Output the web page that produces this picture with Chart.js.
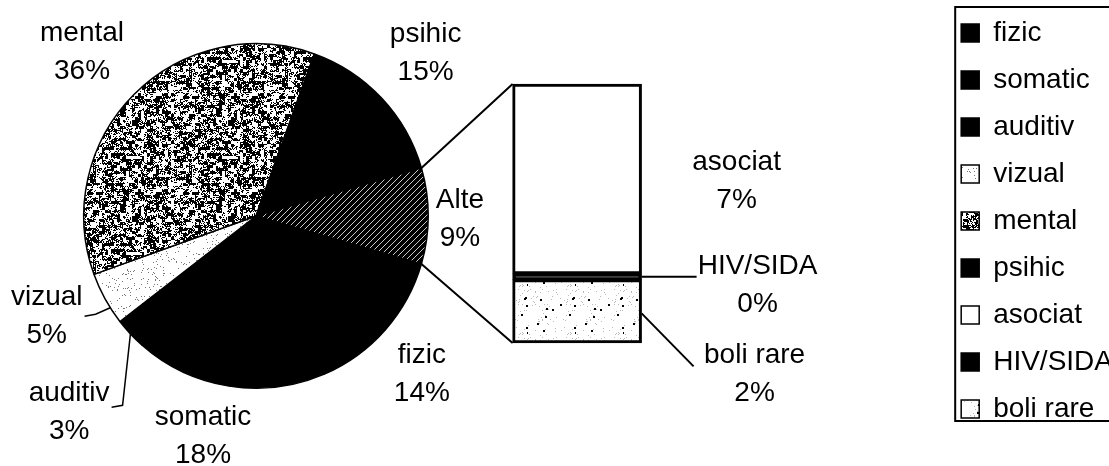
<!DOCTYPE html>
<html>
<head>
<meta charset="utf-8">
<script src="https://cdn.jsdelivr.net/npm/chart.js@4.4.0/dist/chart.umd.min.js"></script>
<style>
  body { margin:0; background:#fff; overflow:hidden; width:1109px; height:466px; position:relative; }
  canvas { position:absolute; left:0; top:0; }
</style>
</head>
<body>
<canvas id="pie" width="1109" height="466"></canvas>
<canvas id="bar" width="1123" height="466"></canvas>
<script>
// pie slices (percent of total), clockwise starting after "Alte"
var pieLabels = ['fizic', 'somatic', 'auditiv', 'vizual', 'mental', 'psihic', 'Alte'];
var pieValues = [14, 18, 3, 5, 36, 15, 9];
// breakdown of "Alte", top to bottom in the bar
var barLabels = ['asociat', 'HIV/SIDA', 'boli rare'];
var barValues = [6.6, 0.2, 2.2];

var FAMILY = "'Liberation Sans', Arial, sans-serif";
var FONT = "28px " + FAMILY;

function noise(x, y, s) {
  var v = Math.sin(x * 12.9898 + y * 78.233 + s * 37.719) * 43758.5453;
  return v - Math.floor(v);
}
function makePattern(w, h, paint) {
  var c = document.createElement('canvas');
  c.width = w; c.height = h;
  var g = c.getContext('2d');
  paint(g, w, h);
  return g.createPattern(c, 'repeat');
}
// grainy grey for "mental"
var speckle = makePattern(96, 96, function(g, w, h) {
  g.fillStyle = '#fff'; g.fillRect(0, 0, w, h);
  g.fillStyle = '#000';
  for (var y = 0; y < h; y++) for (var x = 0; x < w; x++) {
    var v = 0.55 * noise(Math.floor(x / 3), Math.floor(y / 3), 2) + 0.45 * noise(x, y, 1);
    if (v < 0.5) g.fillRect(x, y, 1, 1);
  }
});
// nearly white with a few grains for "vizual"
var lightGrain = makePattern(64, 64, function(g, w, h) {
  g.fillStyle = '#fff'; g.fillRect(0, 0, w, h);
  g.fillStyle = '#777';
  for (var y = 0; y < h; y++) for (var x = 0; x < w; x++)
    if (noise(x, y, 5) < 0.05) g.fillRect(x, y, 1, 1);
});
// sparse dots for "boli rare"
var dots = makePattern(48, 48, function(g, w, h) {
  g.fillStyle = '#fff'; g.fillRect(0, 0, w, h);
  for (var y = 0; y < h; y++) for (var x = 0; x < w; x++) {
    var n = noise(x, y, 9);
    if (n < 0.006) { g.fillStyle = '#000'; g.fillRect(x, y, 2, 2); }
    else if (n < 0.04) { g.fillStyle = '#bbb'; g.fillRect(x, y, 1, 1); }
  }
});
// light diagonal hatch on black for "Alte"
var hatch = makePattern(6, 6, function(g) {
  g.fillStyle = '#000'; g.fillRect(0, 0, 6, 6);
  g.strokeStyle = '#c8c8c8'; g.lineWidth = 1;
  g.beginPath();
  g.moveTo(-1, 7); g.lineTo(7, -1);
  g.moveTo(-1, 1); g.lineTo(1, -1);
  g.moveTo(5, 7); g.lineTo(7, 5);
  g.stroke();
});

var pieColors = ['#000', '#000', '#000', lightGrain, speckle, '#000', hatch];
var barColors = ['#fff', '#000', dots];

var pieTotal = pieValues.reduce(function(a, b) { return a + b; }, 0);
var barTotal = barValues.reduce(function(a, b) { return a + b; }, 0);

// label placement: [angle shift in degrees, distance from centre]
var pieSpots = [[2.2, 229], [4.5, 227], [-3.2, 271], [3.2, 232], [-1.7, 239], [-0.6, 235], [0.8, 204]];

function pct(v) { return Math.round(v) + '%'; }

function twoLines(ctx, x, y, a, b) {
  ctx.fillText(a, x, y - 19);
  ctx.fillText(b, x, y + 19);
}

var pieText = {
  id: 'pieText',
  afterDraw: function(chart) {
    var ctx = chart.ctx;
    var arcs = chart.getDatasetMeta(0).data;
    ctx.save();
    ctx.font = FONT;
    ctx.fillStyle = '#000';
    ctx.strokeStyle = '#000';
    ctx.lineWidth = 1.5;
    ctx.textAlign = 'center';
    ctx.textBaseline = 'middle';
    arcs.forEach(function(arc, i) {
      var mid = (arc.startAngle + arc.endAngle) / 2;
      var a = mid + pieSpots[i][0] * Math.PI / 180;
      var lx = arc.x + pieSpots[i][1] * Math.cos(a);
      var ly = arc.y + pieSpots[i][1] * Math.sin(a);
      twoLines(ctx, lx, ly, pieLabels[i], pct(pieValues[i]));
      if (pieLabels[i] === 'vizual' || pieLabels[i] === 'auditiv') {
        var hw = Math.max(ctx.measureText(pieLabels[i]).width, ctx.measureText(pct(pieValues[i])).width) / 2;
        var ea = pieLabels[i] === 'vizual' ? mid - 3.4 * Math.PI / 180 : mid;
        var dy = pieLabels[i] === 'vizual' ? 0 : -5;
        ctx.beginPath();
        ctx.moveTo(lx + hw + 2, ly + dy);
        ctx.lineTo(lx + hw + 13, ly + dy - 2);
        ctx.lineTo(arc.x + arc.outerRadius * Math.cos(ea), arc.y + arc.outerRadius * Math.sin(ea));
        ctx.stroke();
      }
    });
    ctx.restore();
  }
};

var pieChart = new Chart(document.getElementById('pie'), {
  type: 'pie',
  data: {
    labels: pieLabels,
    datasets: [{
      data: pieValues,
      backgroundColor: pieColors,
      borderColor: '#000',
      borderWidth: 1.5,
      hoverOffset: 0
    }]
  },
  options: {
    responsive: false,
    animation: false,
    rotation: 90 + pieValues[6] / pieTotal * 180,
    layout: { padding: { left: 83, top: 43, right: 680, bottom: 77 } },
    plugins: { legend: { display: false }, tooltip: { enabled: false } }
  },
  plugins: [pieText]
});

var barText = {
  id: 'barText',
  afterDraw: function(chart) {
    var ctx = chart.ctx;
    var pieArc = pieChart.getDatasetMeta(0).data[6];
    var top = chart.getDatasetMeta(2).data[0];
    var bottom = chart.getDatasetMeta(0).data[0];
    var left = top.x - top.width / 2;
    var right = top.x + top.width / 2;
    ctx.save();
    ctx.strokeStyle = '#000';
    ctx.lineWidth = 2;
    // connectors from the "Alte" slice to the bar
    ctx.beginPath();
    ctx.moveTo(pieArc.x + pieArc.outerRadius * Math.cos(pieArc.startAngle), pieArc.y + pieArc.outerRadius * Math.sin(pieArc.startAngle));
    ctx.lineTo(left, top.y);
    ctx.moveTo(pieArc.x + pieArc.outerRadius * Math.cos(pieArc.endAngle), pieArc.y + pieArc.outerRadius * Math.sin(pieArc.endAngle));
    ctx.lineTo(left, bottom.base);
    ctx.stroke();

    ctx.font = FONT;
    ctx.fillStyle = '#000';
    ctx.textAlign = 'center';
    ctx.textBaseline = 'middle';
    var dx = [95, 116, 113];
    var shifts = [2, 8, 63];
    barLabels.forEach(function(name, k) {
      var el = chart.getDatasetMeta(2 - k).data[0];
      var cy = (el.y + el.base) / 2;
      twoLines(ctx, right + dx[k], cy + shifts[k], name, pct(barValues[k]));
      if (name === 'HIV/SIDA') {
        ctx.beginPath(); ctx.moveTo(right, cy); ctx.lineTo(right + 55, cy); ctx.stroke();
      }
      if (name === 'boli rare') {
        ctx.beginPath(); ctx.moveTo(right, cy + 2); ctx.lineTo(right + 52, cy + 55); ctx.stroke();
      }
    });

    // frame round the legend
    var hb = chart.legend.legendHitBoxes[0];
    ctx.lineWidth = 2;
    ctx.strokeRect(hb.left - 6, 7, 400, 414);
    ctx.restore();
  }
};

new Chart(document.getElementById('bar'), {
  type: 'bar',
  data: {
    labels: ['Alte'],
    datasets: [
      { label: barLabels[2], data: [barValues[2]], backgroundColor: barColors[2] },
      { label: barLabels[1], data: [barValues[1]], backgroundColor: barColors[1] },
      { label: barLabels[0], data: [barValues[0]], backgroundColor: barColors[0] }
    ]
  },
  options: {
    responsive: false,
    animation: false,
    layout: { padding: { left: 212 } },
    datasets: { bar: { barThickness: 129, borderColor: '#000', borderWidth: 3, borderSkipped: false } },
    scales: {
      x: { display: false, stacked: true },
      y: { display: false, stacked: true, min: -barTotal * 123 / 259, max: barTotal * 343 / 259 }
    },
    plugins: {
      tooltip: { enabled: false },
      legend: {
        position: 'right',
        align: 'start',
        labels: {
          font: { family: FAMILY, size: 28 },
          color: '#000',
          boxWidth: 18,
          boxHeight: 18,
          padding: 19,
          useBorderRadius: true,
          borderRadius: 3,
          generateLabels: function() {
            var items = [];
            pieLabels.slice(0, 6).forEach(function(name, i) {
              items.push({ text: name, fillStyle: pieColors[i], strokeStyle: '#000', lineWidth: 1.5, hidden: false, fontColor: '#000' });
            });
            barLabels.forEach(function(name, k) {
              items.push({ text: name, fillStyle: barColors[k], strokeStyle: '#000', lineWidth: 1.5, hidden: false, fontColor: '#000' });
            });
            return items;
          }
        }
      }
    }
  },
  plugins: [barText]
});
</script>
</body>
</html>
